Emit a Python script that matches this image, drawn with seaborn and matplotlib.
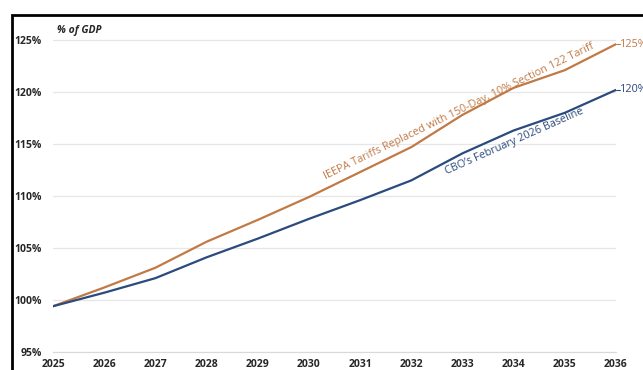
import matplotlib
matplotlib.use("Agg")
import matplotlib.pyplot as plt
import matplotlib.patches as mpatches
import seaborn as sns
import pandas as pd

# Debt held by the public, % of GDP
years = [2025, 2026, 2027, 2028, 2029, 2030, 2031, 2032, 2033, 2034, 2035, 2036]
baseline = [99.4, 100.7, 102.1, 104.1, 105.9, 107.8, 109.6, 111.5, 114.1, 116.3, 118.0, 120.2]
tariff = [99.4, 101.2, 103.1, 105.6, 107.7, 109.9, 112.3, 114.7, 117.8, 120.4, 122.1, 124.6]
yticks = [95, 100, 105, 110, 115, 120, 125]

orange = "#C17A45"
blue = "#2B4A7E"

df = pd.DataFrame({
    "year": years * 2,
    "value": tariff + baseline,
    "series": ["tariff"] * len(years) + ["baseline"] * len(years),
})

sns.set_style("white")
plt.rcParams["font.family"] = ["Open Sans", "DejaVu Sans"]

fig = plt.figure(figsize=(6.43, 3.70), dpi=100)
ax = fig.add_axes([53 / 643, 18 / 370, (616 - 53) / 643, (352 - 18) / 370])

sns.lineplot(data=df, x="year", y="value", hue="series",
             palette={"tariff": orange, "baseline": blue},
             linewidth=1.6, legend=False, ax=ax)

ax.set_xlim(2025, 2036)
ax.set_ylim(95, 95 + 30 * (352 - 18) / (352 - 40))
ax.set_yticks(yticks)
ax.set_yticklabels([f"{v}%" for v in yticks])
ax.set_xticks(years)
ax.set_xlabel("")
ax.set_ylabel("")
ax.grid(axis="y", color="#E6E6E6", linewidth=0.9)
ax.grid(axis="x", visible=False)
for s in ["top", "right", "left"]:
    ax.spines[s].set_visible(False)
ax.spines["bottom"].set_color("#D9D9D9")
ax.tick_params(axis="x", length=3, color="#D9D9D9", pad=2)
ax.tick_params(axis="y", length=0, pad=8)
for lab in ax.get_xticklabels() + ax.get_yticklabels():
    lab.set_fontweight("bold")
    lab.set_fontsize(7.5)
    lab.set_color("#262626")

ax.text(2025.08, 125.4, "% of GDP", fontsize=7.5, fontweight="bold",
        fontstyle="italic", color="#262626", va="bottom")

# series labels along the lines
ax.text(2030.35, 111.3, "IEEPA Tariffs Replaced with 150-Day, 10% Section 122 Tariff",
        rotation=26, rotation_mode="anchor", fontsize=7.8, color=orange,
        ha="left", va="bottom")
ax.text(2032.72, 111.8, "CBO\u2019s February 2026 Baseline",
        rotation=24, rotation_mode="anchor", fontsize=7.8, color=blue,
        ha="left", va="bottom")

# end labels with short leader lines
ax.plot([2036, 2036.07], [tariff[-1], tariff[-1]], color=orange, lw=0.8, clip_on=False)
ax.plot([2036, 2036.07], [baseline[-1], baseline[-1]], color=blue, lw=0.8, clip_on=False)
ax.text(2036.08, tariff[-1], "125%", fontsize=7.8, color=orange, va="center")
ax.text(2036.08, baseline[-1], "120%", fontsize=7.8, color=blue, va="center")

# black frame (left and top edges visible, rest runs off the image)
frame = mpatches.Rectangle((12 / 643, -0.05), 1.0, (370 - 15) / 370 + 0.05,
                           transform=fig.transFigure, fill=False,
                           edgecolor="black", linewidth=2)
fig.patches.append(frame)

fig.savefig("out.png", dpi=100)
